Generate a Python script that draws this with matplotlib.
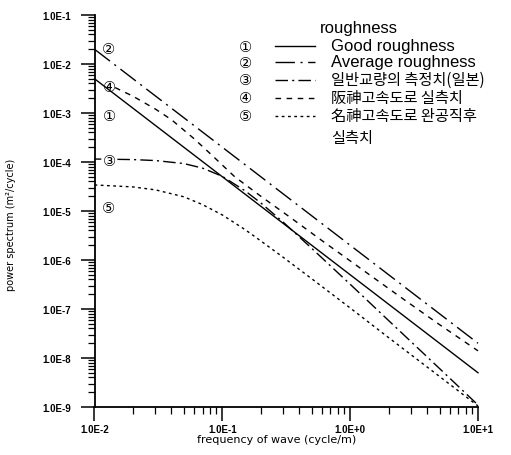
import matplotlib
matplotlib.use("Agg")
import matplotlib.pyplot as plt
from matplotlib.lines import Line2D
from matplotlib.ticker import LogLocator, NullFormatter

# ---- data -------------------------------------------------------------
line_freq = [0.01, 10.0]
good_psd = [5.0e-3, 5.0e-9]          # (1) Good roughness
average_psd = [2.0e-2, 2.0e-8]       # (2) Average roughness

bridge_freq = [0.01, 0.02, 0.03, 0.05, 0.07, 0.1, 0.15, 0.2, 0.3, 0.5,
               1.0, 2.0, 5.0, 10.0]
bridge_psd = [1.15e-4, 1.12e-4, 1.07e-4, 9.3e-5, 7.5e-5, 5.1e-5, 2.6e-5,
              1.46e-5, 5.9e-6, 1.73e-6, 3.2e-7, 5.8e-8, 6.1e-9, 1.1e-9]

hanshin_freq = [0.0145, 0.02, 0.03, 0.04, 0.06, 0.08, 0.125, 0.2, 0.34,
                0.6, 1.0, 2.6, 5.0, 10.0]
hanshin_psd = [3.3e-3, 2.2e-3, 1.2e-3, 7.3e-4, 3.0e-4, 1.5e-4, 5.0e-5,
               2.0e-5, 7.4e-6, 2.5e-6, 9.6e-7, 1.6e-7, 4.8e-8, 1.4e-8]

meishin_freq = [0.01, 0.02, 0.03, 0.05, 0.07, 0.1, 0.15, 0.2, 0.3, 0.5,
                1.0, 2.0, 5.0, 10.0]
meishin_psd = [3.4e-5, 3.1e-5, 2.7e-5, 1.95e-5, 1.35e-5, 8.3e-6, 4.2e-6,
               2.45e-6, 1.13e-6, 4.15e-7, 1.05e-7, 2.6e-8, 4.2e-9, 1.05e-9]

x_ticks = [0.01, 0.1, 1.0, 10.0]
x_tick_labels = ["1.0E-2", "1.0E-1", "1.0E+0", "1.0E+1"]
y_ticks = [1e-9, 1e-8, 1e-7, 1e-6, 1e-5, 1e-4, 1e-3, 1e-2, 1e-1]
y_tick_labels = ["1.0E-9", "1.0E-8", "1.0E-7", "1.0E-6", "1.0E-5",
                 "1.0E-4", "1.0E-3", "1.0E-2", "1.0E-1"]

legend_title = "roughness"
legend_marks = ["\u2460", "\u2461", "\u2462", "\u2463", "\u2464"]
legend_labels = ["Good roughness", "Average roughness",
                 "일반교량의 측정치(일본)", "阪神고속도로 실측치",
                 "名神고속도로 완공직후\n실측치"]

# ---- styles -----------------------------------------------------------
W, H = 511, 456
styles = [
    dict(linestyle="-"),
    dict(linestyle=(0, (14, 4, 1.5, 4))),
    dict(linestyle=(0, (9, 3, 1.5, 3))),
    dict(linestyle=(0, (4, 4))),
    dict(linestyle=(0, (2, 2.5))),
]
LW = 1.0
KFONT = ["Noto Sans CJK KR", "DejaVu Sans"]
EFONT = ["Liberation Sans", "DejaVu Sans"]
MARK_FONT = ["DejaVu Sans"]
MARK_SIZE = 10.5


def fx(px):
    return px / W


def fy(py):
    return 1 - py / H


fig = plt.figure(figsize=(W / 100, H / 100), dpi=100)
ax = fig.add_axes([fx(94.5), fy(408), 383.5 / W, 392 / H])
ax.set_xscale("log")
ax.set_yscale("log")
ax.set_xlim(0.01, 10)
ax.set_ylim(1e-9, 1e-1)

series = [
    (line_freq, good_psd),
    (line_freq, average_psd),
    (bridge_freq, bridge_psd),
    (hanshin_freq, hanshin_psd),
    (meishin_freq, meishin_psd),
]
for (f, s), st in zip(series, styles):
    ax.plot(f, s, color="black", lw=LW, clip_on=False, **st)

# spines and ticks
for side in ("top", "right"):
    ax.spines[side].set_visible(False)
for side in ("left", "bottom"):
    ax.spines[side].set_linewidth(1.3)

ax.set_xticks(x_ticks)
ax.set_xticklabels(x_tick_labels)
ax.set_yticks(y_ticks)
ax.set_yticklabels(y_tick_labels)
ax.xaxis.set_minor_locator(LogLocator(base=10, subs=range(2, 10), numticks=20))
ax.yaxis.set_minor_locator(LogLocator(base=10, subs=range(2, 10), numticks=20))
ax.xaxis.set_minor_formatter(NullFormatter())
ax.yaxis.set_minor_formatter(NullFormatter())
ax.tick_params(which="major", direction="out", length=10, width=1.1)
ax.tick_params(which="minor", direction="out", length=5, width=0.9)
ax.tick_params(axis="y", which="major", pad=7)
ax.tick_params(axis="x", which="major", pad=2)
for lab in ax.get_xticklabels() + ax.get_yticklabels():
    lab.set_fontfamily(EFONT)
    lab.set_fontsize(7)
    lab.set_fontweight("bold")

# axis titles
fig.text(fx(277), fy(440), "frequency of wave (cycle/m)", ha="center",
         va="center", fontsize=8, family="DejaVu Sans")
fig.text(fx(11), fy(225), "power spectrum (m\u00b2/cycle)", ha="center",
         va="center", rotation=90, fontsize=7, family="DejaVu Sans")

# curve labels inside the axes
curve_label_pos = [(109, 117), (108, 50), (109, 161), (109, 87), (108, 209)]
for i, (mark, (px, py)) in enumerate(zip(legend_marks, curve_label_pos)):
    kw = {}
    if i == 2:
        kw["bbox"] = dict(boxstyle="circle,pad=0.02", fc="white", ec="none")
    fig.text(fx(px), fy(py), mark, ha="center", va="center",
             fontsize=MARK_SIZE, family=MARK_FONT, zorder=5, **kw)

# legend
fig.text(fx(320), fy(28), legend_title, ha="left", va="center",
         fontsize=12, family=EFONT)
row_y = [47, 63, 81, 99, 117]
for i, (mark, label, st, ry) in enumerate(zip(legend_marks, legend_labels,
                                              styles, row_y)):
    fig.text(fx(245), fy(ry), mark, ha="center", va="center",
             fontsize=MARK_SIZE, family=MARK_FONT)
    fig.add_artist(Line2D([fx(275), fx(315)], [fy(ry), fy(ry)],
                          transform=fig.transFigure, color="black",
                          lw=LW, **st))
    if i < 2:
        fig.text(fx(331), fy(ry), label, ha="left", va="center",
                 fontsize=12, family=EFONT)
    else:
        # Korean rows; the last one wraps onto a second line
        fig.text(fx(331), fy(ry - 9), label, ha="left", va="top",
                 fontsize=11, family=KFONT, linespacing=1.35)

fig.savefig("out.png", dpi=100)
